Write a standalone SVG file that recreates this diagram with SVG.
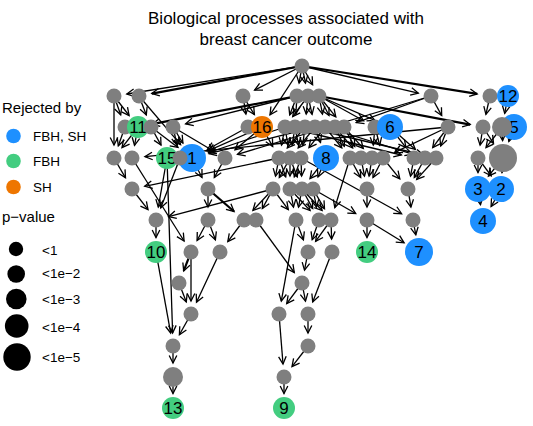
<svg xmlns="http://www.w3.org/2000/svg" width="533" height="426" viewBox="0 0 533 426">
<style>
.e{fill:none;stroke:#000;stroke-width:1.3;marker-end:url(#ah)}
.w{stroke-width:2.2}
.g{fill:#7F7F7F}
.b{fill:#1E90FF}
.gr{fill:#43CD80}
.o{fill:#EE7600}
.k{fill:#000}
.lb{font-family:"Liberation Sans",Arial,sans-serif;font-size:17px;text-anchor:middle;fill:#000}
.tt{font-family:"Liberation Sans",Arial,sans-serif;font-size:17px;text-anchor:middle;fill:#000}
.lh{font-family:"Liberation Sans",Arial,sans-serif;font-size:15px;fill:#000}
.ls{font-family:"Liberation Sans",Arial,sans-serif;font-size:13.5px;fill:#000}
</style>
<defs>
<marker id="ah" markerUnits="userSpaceOnUse" markerWidth="10" markerHeight="10" refX="0" refY="0" orient="auto" style="overflow:visible">
<path d="M-7.5,-3.8 L0,0 L-7.5,3.8" fill="none" stroke="#000" stroke-width="1.3"/>
</marker>
</defs>
<g id="title">
<text class="tt" x="286" y="24">Biological processes associated with</text>
<text class="tt" x="286" y="45">breast cancer outcome</text>
</g>
<g id="legend">
<text class="lh" x="2" y="113">Rejected by</text>
<circle class="b" cx="13.5" cy="136" r="7.3"/><text class="ls" x="33" y="141">FBH, SH</text>
<circle class="gr" cx="13.5" cy="161" r="7.3"/><text class="ls" x="33" y="166">FBH</text>
<circle class="o" cx="13.5" cy="187" r="7.3"/><text class="ls" x="33" y="192">SH</text>
<text class="lh" x="2" y="222">p−value</text>
<circle class="k" cx="16" cy="249" r="7.2"/><text class="ls" x="42" y="255">&lt;1</text>
<circle class="k" cx="16.2" cy="274" r="8.8"/><text class="ls" x="42" y="278">&lt;1e−2</text>
<circle class="k" cx="16.3" cy="299" r="10.3"/><text class="ls" x="42" y="304">&lt;1e−3</text>
<circle class="k" cx="16.7" cy="326" r="11.8"/><text class="ls" x="42" y="332">&lt;1e−4</text>
<circle class="k" cx="17" cy="357" r="13.7"/><text class="ls" x="42" y="362">&lt;1e−5</text>
</g>
<g id="edges">
<line class="e" x1="302" y1="66" x2="126.8" y2="94"/>
<line class="e w" x1="302" y1="66" x2="151.8" y2="93.6"/>
<line class="e" x1="302" y1="66" x2="254.6" y2="90.1"/>
<line class="e" x1="302" y1="66" x2="299.1" y2="83.2"/>
<line class="e" x1="302" y1="66" x2="305.5" y2="83.2"/>
<line class="e" x1="302" y1="66" x2="312.6" y2="84.7"/>
<line class="e" x1="302" y1="66" x2="270" y2="114.9"/>
<line class="e" x1="302" y1="66" x2="418.3" y2="93.1"/>
<line class="e w" x1="302" y1="66" x2="477.2" y2="93.9"/>
<line class="e" x1="114" y1="96" x2="129.1" y2="115.5"/>
<line class="e" x1="114" y1="96" x2="114" y2="145"/>
<line class="e" x1="114" y1="96" x2="120.7" y2="114.8"/>
<line class="e" x1="139" y1="96" x2="180.6" y2="144.7"/>
<line class="e" x1="139" y1="96" x2="146.3" y2="114.9"/>
<line class="e" x1="243" y1="96" x2="254.4" y2="114.6"/>
<line class="e" x1="243" y1="96" x2="245.9" y2="114.2"/>
<line class="e w" x1="297" y1="96" x2="152.2" y2="124.2"/>
<line class="e" x1="297" y1="96" x2="185.6" y2="123.8"/>
<line class="e" x1="297" y1="96" x2="289.7" y2="114.9"/>
<line class="e" x1="297" y1="96" x2="295.8" y2="114"/>
<line class="e" x1="308" y1="96" x2="306.2" y2="114.1"/>
<line class="e" x1="308" y1="96" x2="312.1" y2="114.3"/>
<line class="e" x1="308" y1="96" x2="292.7" y2="116.6"/>
<line class="e" x1="319" y1="96" x2="322.5" y2="114.2"/>
<line class="e" x1="319" y1="96" x2="329" y2="115.5"/>
<line class="e" x1="319" y1="96" x2="335.8" y2="116.9"/>
<line class="e" x1="319" y1="96" x2="363.6" y2="120.7"/>
<line class="e" x1="319" y1="96" x2="374.9" y2="120.4"/>
<line class="e w" x1="319" y1="96" x2="470.2" y2="124.6"/>
<line class="e" x1="431" y1="96" x2="441.7" y2="115.6"/>
<line class="e" x1="431" y1="96" x2="356.2" y2="122.6"/>
<line class="e" x1="431" y1="96" x2="237.5" y2="154.3"/>
<line class="e" x1="490" y1="96" x2="485.9" y2="114.3"/>
<line class="e" x1="508" y1="96" x2="504.7" y2="113.3"/>
<line class="e" x1="125" y1="127" x2="118.3" y2="145.8"/>
<line class="e" x1="138" y1="127" x2="122" y2="147.7"/>
<line class="e" x1="138" y1="127" x2="134.5" y2="145.3"/>
<line class="e" x1="151" y1="127" x2="178" y2="147.4"/>
<line class="e" x1="151" y1="127" x2="161" y2="145.1"/>
<line class="e" x1="173" y1="127" x2="182.9" y2="143.1"/>
<line class="e" x1="173" y1="127" x2="213.8" y2="151.3"/>
<line class="e" x1="173" y1="127" x2="177.1" y2="145.3"/>
<line class="e" x1="248" y1="127" x2="207.3" y2="149.5"/>
<line class="e" x1="262" y1="127" x2="208" y2="150.9"/>
<line class="e" x1="262" y1="127" x2="235" y2="149.7"/>
<line class="e" x1="262" y1="127" x2="272.7" y2="146.6"/>
<line class="e" x1="285" y1="127" x2="208.6" y2="152.5"/>
<line class="e" x1="285" y1="127" x2="281.5" y2="145.2"/>
<line class="e" x1="285" y1="127" x2="287.9" y2="145.2"/>
<line class="e" x1="285" y1="127" x2="401.4" y2="155"/>
<line class="e" x1="295" y1="127" x2="292.1" y2="145.2"/>
<line class="e" x1="295" y1="127" x2="298.5" y2="145.2"/>
<line class="e" x1="305" y1="127" x2="302.7" y2="145.1"/>
<line class="e" x1="305" y1="127" x2="287.3" y2="148"/>
<line class="e" x1="305" y1="127" x2="423.4" y2="155"/>
<line class="e" x1="315" y1="127" x2="209" y2="153.7"/>
<line class="e" x1="315" y1="127" x2="298.2" y2="147.9"/>
<line class="e" x1="315" y1="127" x2="320.5" y2="142.5"/>
<line class="e" x1="325" y1="127" x2="309" y2="147.7"/>
<line class="e" x1="325" y1="127" x2="341.8" y2="147.9"/>
<line class="e" x1="325" y1="127" x2="412.6" y2="154.2"/>
<line class="e" x1="335" y1="127" x2="344.3" y2="146.3"/>
<line class="e" x1="335" y1="127" x2="352.7" y2="148"/>
<line class="e" x1="344" y1="127" x2="354.7" y2="146.6"/>
<line class="e" x1="344" y1="127" x2="363.3" y2="148.4"/>
<line class="e" x1="375" y1="127" x2="373.3" y2="145.1"/>
<line class="e" x1="375" y1="127" x2="379.7" y2="145.4"/>
<line class="e" x1="390" y1="127" x2="406" y2="147.7"/>
<line class="e" x1="390" y1="127" x2="415.3" y2="149.4"/>
<line class="e" x1="448" y1="127" x2="440.7" y2="145.9"/>
<line class="e" x1="448" y1="127" x2="394.7" y2="152.4"/>
<line class="e" x1="448" y1="127" x2="432.7" y2="147.6"/>
<line class="e" x1="448" y1="127" x2="144.9" y2="156.7"/>
<line class="e" x1="483" y1="127" x2="480.1" y2="145.2"/>
<line class="e" x1="483" y1="127" x2="493.5" y2="143.3"/>
<line class="e" x1="502" y1="127" x2="502.6" y2="140.5"/>
<line class="e" x1="502" y1="127" x2="486" y2="147.7"/>
<line class="e" x1="514" y1="127" x2="508.8" y2="141.5"/>
<line class="e" x1="114" y1="158" x2="125.5" y2="177.8"/>
<line class="e" x1="132" y1="158" x2="184.1" y2="241"/>
<line class="e" x1="167" y1="158" x2="158.3" y2="207.2"/>
<line class="e" x1="167" y1="158" x2="172.6" y2="333"/>
<line class="e" x1="180" y1="158" x2="160.7" y2="207.9"/>
<line class="e" x1="192" y1="158" x2="202" y2="177.5"/>
<line class="e" x1="225" y1="158" x2="214.3" y2="177.6"/>
<line class="e" x1="279" y1="158" x2="144.7" y2="186.3"/>
<line class="e" x1="279" y1="158" x2="275.5" y2="176.2"/>
<line class="e" x1="279" y1="158" x2="285.7" y2="176.8"/>
<line class="e" x1="290" y1="158" x2="279.3" y2="177.6"/>
<line class="e" x1="290" y1="158" x2="290" y2="176"/>
<line class="e" x1="290" y1="158" x2="297.3" y2="176.9"/>
<line class="e" x1="301" y1="158" x2="294.3" y2="176.8"/>
<line class="e" x1="301" y1="158" x2="301.6" y2="176"/>
<line class="e" x1="301" y1="158" x2="401.6" y2="213.7"/>
<line class="e" x1="326" y1="158" x2="310" y2="178.7"/>
<line class="e" x1="326" y1="158" x2="318" y2="177"/>
<line class="e" x1="350" y1="158" x2="334.8" y2="207.6"/>
<line class="e" x1="350" y1="158" x2="360.7" y2="177.6"/>
<line class="e" x1="361" y1="158" x2="364.5" y2="176.2"/>
<line class="e" x1="372" y1="158" x2="369.1" y2="176.2"/>
<line class="e" x1="383" y1="158" x2="399.8" y2="178.9"/>
<line class="e" x1="383" y1="158" x2="373" y2="177.5"/>
<line class="e" x1="414" y1="158" x2="410.5" y2="176.2"/>
<line class="e" x1="425" y1="158" x2="414.3" y2="177.6"/>
<line class="e" x1="436" y1="158" x2="416.7" y2="179.4"/>
<line class="e" x1="478" y1="158" x2="478" y2="172.5"/>
<line class="e" x1="478" y1="158" x2="491.2" y2="175.8"/>
<line class="e" x1="503" y1="158" x2="502" y2="172.5"/>
<line class="e" x1="503" y1="158" x2="488.4" y2="176.1"/>
<line class="e" x1="478" y1="189" x2="480.5" y2="204.7"/>
<line class="e" x1="501" y1="189" x2="491.1" y2="206.6"/>
<line class="e" x1="132" y1="189" x2="148" y2="209.7"/>
<line class="e" x1="208" y1="189" x2="208" y2="207"/>
<line class="e w" x1="208" y1="189" x2="234.1" y2="211.5"/>
<line class="e" x1="273" y1="189" x2="168.6" y2="216.7"/>
<line class="e" x1="273" y1="189" x2="262.3" y2="208.6"/>
<line class="e" x1="273" y1="189" x2="252.9" y2="210.5"/>
<line class="e" x1="273" y1="189" x2="288.3" y2="209.6"/>
<line class="e" x1="290" y1="189" x2="293.5" y2="207.2"/>
<line class="e" x1="290" y1="189" x2="310.1" y2="210.5"/>
<line class="e" x1="302" y1="189" x2="298.5" y2="207.2"/>
<line class="e" x1="302" y1="189" x2="312.7" y2="208.6"/>
<line class="e" x1="302" y1="189" x2="322.1" y2="210.5"/>
<line class="e" x1="313" y1="189" x2="316.5" y2="207.2"/>
<line class="e" x1="313" y1="189" x2="324.5" y2="208.8"/>
<line class="e" x1="313" y1="189" x2="355.7" y2="213.5"/>
<line class="e" x1="367" y1="189" x2="367" y2="207"/>
<line class="e" x1="408" y1="189" x2="410.9" y2="207.2"/>
<line class="e" x1="156" y1="220" x2="156" y2="237.5"/>
<line class="e" x1="208" y1="220" x2="197.1" y2="240.5"/>
<line class="e" x1="208" y1="220" x2="215.4" y2="239.8"/>
<line class="e" x1="244" y1="220" x2="227.8" y2="241.6"/>
<line class="e" x1="256" y1="220" x2="294.3" y2="272.5"/>
<line class="e" x1="296" y1="220" x2="281.3" y2="301.2"/>
<line class="e" x1="296" y1="220" x2="303.4" y2="239.8"/>
<line class="e" x1="319" y1="220" x2="312.2" y2="239.7"/>
<line class="e" x1="331" y1="220" x2="315.6" y2="241.4"/>
<line class="e" x1="331" y1="220" x2="331.6" y2="239"/>
<line class="e" x1="367" y1="220" x2="367" y2="237.5"/>
<line class="e" x1="367" y1="220" x2="404.1" y2="242.8"/>
<line class="e" x1="413" y1="220" x2="415.8" y2="234.8"/>
<line class="e w" x1="191" y1="252" x2="183.7" y2="270.9"/>
<line class="e" x1="191" y1="252" x2="191" y2="301"/>
<line class="e" x1="220" y1="252" x2="196.5" y2="302.2"/>
<line class="e" x1="156" y1="252" x2="170.7" y2="333.2"/>
<line class="e" x1="308" y1="252" x2="304.5" y2="270.2"/>
<line class="e" x1="332" y1="252" x2="312.7" y2="301.9"/>
<line class="e" x1="179" y1="283" x2="186.3" y2="301.9"/>
<line class="e" x1="302" y1="283" x2="286.7" y2="303.6"/>
<line class="e" x1="302" y1="283" x2="305.5" y2="301.2"/>
<line class="e" x1="191" y1="314" x2="179.4" y2="334.7"/>
<line class="e" x1="279" y1="314" x2="283" y2="364"/>
<line class="e" x1="308" y1="314" x2="308" y2="333"/>
<line class="e" x1="173" y1="346" x2="173" y2="363"/>
<line class="e" x1="308" y1="346" x2="292" y2="366.7"/>
<line class="e" x1="173" y1="377" x2="173" y2="393.5"/>
<line class="e" x1="284" y1="377" x2="284" y2="393.5"/>
</g>
<g id="nodes">
<g id="n-R0"><circle class="g" cx="302" cy="66" r="7.5"/></g>
<g id="n-A1"><circle class="g" cx="114" cy="96" r="7.5"/></g>
<g id="n-A2"><circle class="g" cx="139" cy="96" r="7.5"/></g>
<g id="n-A3"><circle class="g" cx="243" cy="96" r="7.5"/></g>
<g id="n-A4"><circle class="g" cx="297" cy="96" r="7.5"/></g>
<g id="n-A5"><circle class="g" cx="308" cy="96" r="7.5"/></g>
<g id="n-A6"><circle class="g" cx="319" cy="96" r="7.5"/></g>
<g id="n-A7"><circle class="g" cx="431" cy="96" r="7.5"/></g>
<g id="n-A8"><circle class="g" cx="490" cy="96" r="7.5"/></g>
<g id="n-B1"><circle class="g" cx="125" cy="127" r="7.5"/></g>
<g id="n-11"><circle class="gr" cx="138" cy="127" r="11"/><text class="lb" x="138" y="133">11</text></g>
<g id="n-B2"><circle class="g" cx="151" cy="127" r="7.5"/></g>
<g id="n-B3"><circle class="g" cx="173" cy="127" r="7.5"/></g>
<g id="n-B4"><circle class="g" cx="248" cy="127" r="7.5"/></g>
<g id="n-B5"><circle class="g" cx="285" cy="127" r="7.5"/></g>
<g id="n-B6"><circle class="g" cx="295" cy="127" r="7.5"/></g>
<g id="n-B7"><circle class="g" cx="305" cy="127" r="7.5"/></g>
<g id="n-B8"><circle class="g" cx="315" cy="127" r="7.5"/></g>
<g id="n-B9"><circle class="g" cx="325" cy="127" r="7.5"/></g>
<g id="n-B10"><circle class="g" cx="335" cy="127" r="7.5"/></g>
<g id="n-B11"><circle class="g" cx="344" cy="127" r="7.5"/></g>
<g id="n-B12"><circle class="g" cx="375" cy="127" r="7.5"/></g>
<g id="n-B13"><circle class="g" cx="448" cy="127" r="7.5"/></g>
<g id="n-B14"><circle class="g" cx="483" cy="127" r="7.5"/></g>
<g id="n-C1"><circle class="g" cx="114" cy="158" r="7.5"/></g>
<g id="n-C2"><circle class="g" cx="132" cy="158" r="7.5"/></g>
<g id="n-C4"><circle class="g" cx="225" cy="158" r="7.5"/></g>
<g id="n-C5"><circle class="g" cx="279" cy="158" r="7.5"/></g>
<g id="n-C6"><circle class="g" cx="290" cy="158" r="7.5"/></g>
<g id="n-C7"><circle class="g" cx="301" cy="158" r="7.5"/></g>
<g id="n-C8"><circle class="g" cx="350" cy="158" r="7.5"/></g>
<g id="n-C9"><circle class="g" cx="361" cy="158" r="7.5"/></g>
<g id="n-C10"><circle class="g" cx="372" cy="158" r="7.5"/></g>
<g id="n-C11"><circle class="g" cx="383" cy="158" r="7.5"/></g>
<g id="n-C12"><circle class="g" cx="414" cy="158" r="7.5"/></g>
<g id="n-C13"><circle class="g" cx="425" cy="158" r="7.5"/></g>
<g id="n-C14"><circle class="g" cx="436" cy="158" r="7.5"/></g>
<g id="n-C15"><circle class="g" cx="478" cy="158" r="7.5"/></g>
<g id="n-C16"><circle class="g" cx="503" cy="158" r="14"/></g>
<g id="n-D1"><circle class="g" cx="132" cy="189" r="7.5"/></g>
<g id="n-D2"><circle class="g" cx="208" cy="189" r="7.5"/></g>
<g id="n-D3"><circle class="g" cx="273" cy="189" r="7.5"/></g>
<g id="n-D4"><circle class="g" cx="290" cy="189" r="7.5"/></g>
<g id="n-D5"><circle class="g" cx="302" cy="189" r="7.5"/></g>
<g id="n-D6"><circle class="g" cx="313" cy="189" r="7.5"/></g>
<g id="n-D7"><circle class="g" cx="367" cy="189" r="7.5"/></g>
<g id="n-D8"><circle class="g" cx="408" cy="189" r="7.5"/></g>
<g id="n-E1"><circle class="g" cx="156" cy="220" r="7.5"/></g>
<g id="n-E2"><circle class="g" cx="208" cy="220" r="7.5"/></g>
<g id="n-E3"><circle class="g" cx="244" cy="220" r="7.5"/></g>
<g id="n-E4"><circle class="g" cx="256" cy="220" r="7.5"/></g>
<g id="n-E5"><circle class="g" cx="296" cy="220" r="7.5"/></g>
<g id="n-E6"><circle class="g" cx="319" cy="220" r="7.5"/></g>
<g id="n-E7"><circle class="g" cx="331" cy="220" r="7.5"/></g>
<g id="n-E8"><circle class="g" cx="367" cy="220" r="7.5"/></g>
<g id="n-E9"><circle class="g" cx="413" cy="220" r="7.5"/></g>
<g id="n-F1"><circle class="g" cx="191" cy="252" r="7.5"/></g>
<g id="n-F2"><circle class="g" cx="220" cy="252" r="7.5"/></g>
<g id="n-F3"><circle class="g" cx="308" cy="252" r="7.5"/></g>
<g id="n-F4"><circle class="g" cx="332" cy="252" r="7.5"/></g>
<g id="n-G1"><circle class="g" cx="179" cy="283" r="7.5"/></g>
<g id="n-G2"><circle class="g" cx="302" cy="283" r="7.5"/></g>
<g id="n-H1"><circle class="g" cx="191" cy="314" r="7.5"/></g>
<g id="n-H2"><circle class="g" cx="279" cy="314" r="7.5"/></g>
<g id="n-H3"><circle class="g" cx="308" cy="314" r="7.5"/></g>
<g id="n-I1"><circle class="g" cx="173" cy="346" r="7.5"/></g>
<g id="n-I2"><circle class="g" cx="308" cy="346" r="7.5"/></g>
<g id="n-J1"><circle class="g" cx="173" cy="377" r="10"/></g>
<g id="n-J2"><circle class="g" cx="284" cy="377" r="7.5"/></g>
<g id="n-12"><circle class="b" cx="508" cy="96" r="11"/><text class="lb" x="508" y="102">12</text></g>
<g id="n-16"><circle class="o" cx="262" cy="127" r="11"/><text class="lb" x="262" y="133">16</text></g>
<g id="n-6"><circle class="b" cx="390" cy="127" r="13"/><text class="lb" x="390" y="133">6</text></g>
<g id="n-5"><circle class="b" cx="514" cy="127" r="13"/><text class="lb" x="514" y="133">5</text></g>
<g id="n-B15"><circle class="g" cx="502" cy="127" r="10"/></g>
<g id="n-15"><circle class="gr" cx="167" cy="158" r="11"/><text class="lb" x="167" y="164">15</text></g>
<g id="n-1"><circle class="b" cx="192" cy="158" r="14"/><text class="lb" x="192" y="164">1</text></g>
<g id="n-C3"><circle class="g" cx="180" cy="158" r="7.5"/></g>
<g id="n-8"><circle class="b" cx="326" cy="158" r="13"/><text class="lb" x="326" y="164">8</text></g>
<g id="n-3"><circle class="b" cx="478" cy="189" r="13"/><text class="lb" x="478" y="195">3</text></g>
<g id="n-2"><circle class="b" cx="501" cy="189" r="13"/><text class="lb" x="501" y="195">2</text></g>
<g id="n-4"><circle class="b" cx="483" cy="221" r="13"/><text class="lb" x="483" y="227">4</text></g>
<g id="n-10"><circle class="gr" cx="156" cy="252" r="11"/><text class="lb" x="156" y="258">10</text></g>
<g id="n-14"><circle class="gr" cx="367" cy="252" r="11"/><text class="lb" x="367" y="258">14</text></g>
<g id="n-7"><circle class="b" cx="419" cy="252" r="14"/><text class="lb" x="419" y="258">7</text></g>
<g id="n-13"><circle class="gr" cx="173" cy="408" r="11"/><text class="lb" x="173" y="414">13</text></g>
<g id="n-9"><circle class="gr" cx="284" cy="408" r="11"/><text class="lb" x="284" y="414">9</text></g>
</g>
</svg>
